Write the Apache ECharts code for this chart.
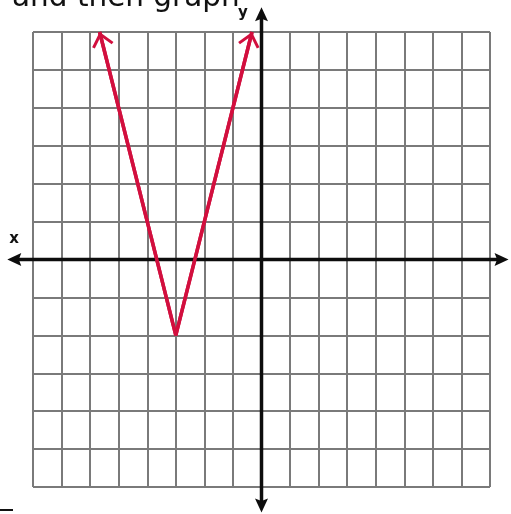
<!DOCTYPE html>
<html>
<head>
<meta charset="utf-8">
<script src="https://cdn.jsdelivr.net/npm/echarts@6/dist/echarts.min.js"></script>
<style>
  html, body { margin: 0; padding: 0; background: #fff; }
  #chart { width: 511px; height: 514px; }
</style>
</head>
<body>
<div id="chart"></div>
<script>
// Plotting window (one grid square per unit)
const xRange = [-8, 8];
const yRange = [-6, 6];

// y = 3|x + 3| - 2 : left arrow tip, vertex, right arrow tip
const vXs = [-5.667, -3, -0.333];
const vYs = [6, -2, 6];

// Coordinate axes run a little past the grid on every side: [x1, y1, x2, y2]
const xAxisSegment = [-8.9, 0, 8.65, 0];
const yAxisSegment = [0, -6.67, 0, 6.65];

const titleText = 'and then graph';
const xName = 'x';
const yName = 'y';

const RED = '#d20f3e';
const GRIDGRAY = '#7a7a7a';
const BLACK = '#0d0d0d';

// Open arrowhead as a filled chevron; the tiny second subpath balances the
// bounding box so the apex sits exactly on the end point.
const chevron = 'path://M0 13 L11 0 L22 13 L19.7 14.9 L11 4.6 L2.3 14.9 Z M11 -14.9 L11.02 -14.9 L11 -14.88 Z';
const chevronSize = [22, 29.8];

const vPoints = vXs.map((x, i) => [x, vYs[i]]);
const vertex = vPoints[1];

const chart = echarts.init(document.getElementById('chart'), null, { renderer: 'canvas' });

const hiddenAxis = (range) => ({
  type: 'value',
  min: range[0],
  max: range[1],
  interval: 1,
  axisLine: { show: false },
  axisTick: { show: false },
  axisLabel: { show: false },
  splitLine: { show: true, lineStyle: { color: GRIDGRAY, width: 2 } }
});

// Double-headed axis arrow drawn between two data points
function renderAxisArrow(params, api) {
  const p1 = api.coord([api.value(0), api.value(1)]);
  const p2 = api.coord([api.value(2), api.value(3)]);
  const dx = p2[0] - p1[0];
  const dy = p2[1] - p1[1];
  const len = Math.hypot(dx, dy);
  const ux = dx / len, uy = dy / len;
  const nx = -uy, ny = ux;
  const headLen = 14, headHalf = 6.5, notch = 11.5;
  const head = (tip, sx, sy) => [
    [tip[0], tip[1]],
    [tip[0] - sx * headLen + nx * headHalf, tip[1] - sy * headLen + ny * headHalf],
    [tip[0] - sx * notch, tip[1] - sy * notch],
    [tip[0] - sx * headLen - nx * headHalf, tip[1] - sy * headLen - ny * headHalf]
  ];
  const style = { fill: BLACK };
  return {
    type: 'group',
    children: [
      {
        type: 'line',
        shape: {
          x1: p1[0] + ux * 8, y1: p1[1] + uy * 8,
          x2: p2[0] - ux * 8, y2: p2[1] - uy * 8
        },
        style: { stroke: BLACK, lineWidth: 3.5 }
      },
      { type: 'polygon', shape: { points: head(p2, ux, uy) }, style },
      { type: 'polygon', shape: { points: head(p1, -ux, -uy) }, style }
    ]
  };
}

chart.setOption({
  animation: false,
  backgroundColor: '#fff',
  grid: { left: 33, right: 21, top: 32, bottom: 27, containLabel: false },
  xAxis: hiddenAxis(xRange),
  yAxis: hiddenAxis(yRange),
  graphic: [
    {
      type: 'text', x: 12, y: -2, silent: true,
      style: {
        text: titleText, fill: '#111',
        font: '29.5px "DejaVu Sans"', verticalAlign: 'middle', align: 'left'
      }
    },
    {
      type: 'text', x: 14, y: 239, silent: true,
      style: {
        text: xName, fill: '#111',
        font: 'bold 15px "DejaVu Sans"', verticalAlign: 'middle', align: 'center'
      }
    },
    {
      type: 'text', x: 243, y: 13, silent: true,
      style: {
        text: yName, fill: '#111',
        font: 'bold 15px "DejaVu Sans"', verticalAlign: 'middle', align: 'center'
      }
    },
    {
      type: 'rect', silent: true,
      shape: { x: 0, y: 509, width: 13, height: 2 },
      style: { fill: '#111' }
    }
  ],
  series: [
    {
      name: 'graph',
      type: 'line',
      z: 3,
      data: vPoints,
      symbol: 'none',
      lineStyle: { color: RED, width: 3.5 },
      markLine: {
        silent: true,
        animation: false,
        symbol: ['none', chevron],
        label: { show: false },
        lineStyle: { color: RED, width: 3.5, type: 'solid' },
        emphasis: { disabled: true },
        data: [
          [{ coord: vertex }, { coord: vPoints[0], symbolSize: chevronSize }],
          [{ coord: vertex }, { coord: vPoints[2], symbolSize: chevronSize }]
        ]
      }
    },
    {
      name: 'axes',
      type: 'custom',
      z: 4,
      silent: true,
      clip: false,
      renderItem: renderAxisArrow,
      data: [xAxisSegment, yAxisSegment]
    }
  ]
});
</script>
</body>
</html>
